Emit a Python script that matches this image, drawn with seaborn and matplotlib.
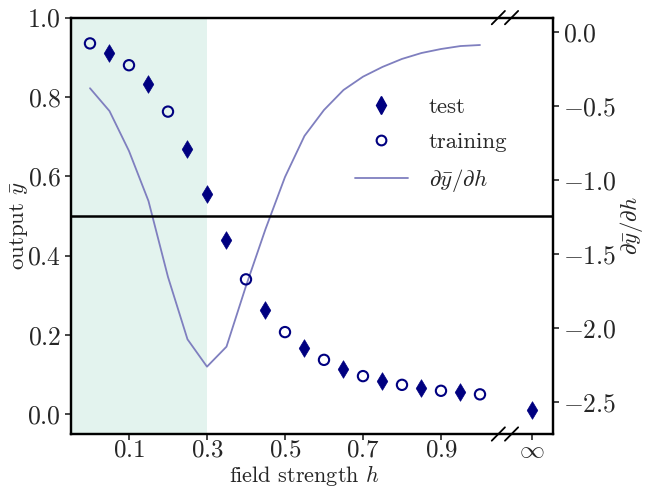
import numpy as np
import pandas as pd
import matplotlib
matplotlib.use("Agg")
import matplotlib.pyplot as plt
import seaborn as sns
from matplotlib.lines import Line2D

# x position used for the h -> infinity point (after the axis break)
H_INF = 1.133
H_BREAK = 1.064

# training points
h_train = [0.0, 0.1, 0.2, 0.4, 0.5, 0.6, 0.7, 0.8, 0.9, 1.0]
y_train = [0.935, 0.880, 0.763, 0.340, 0.207, 0.137, 0.096, 0.074, 0.059, 0.050]

# test points (last one is h = infinity)
h_test = [0.05, 0.15, 0.25, 0.3, 0.35, 0.45, 0.55, 0.65, 0.75, 0.85, 0.95, H_INF]
y_test = [0.912, 0.832, 0.669, 0.554, 0.440, 0.263, 0.166, 0.113, 0.084, 0.065, 0.055, 0.011]

# derivative of the mean output with respect to h
h_deriv = [0.0, 0.05, 0.1, 0.15, 0.2, 0.25, 0.3, 0.35, 0.4, 0.45, 0.5,
           0.55, 0.6, 0.65, 0.7, 0.75, 0.8, 0.85, 0.9, 0.95, 1.0]
dy_dh = [-0.378, -0.532, -0.802, -1.140, -1.653, -2.074, -2.259, -2.124, -1.714,
         -1.330, -0.978, -0.700, -0.525, -0.390, -0.300, -0.234, -0.180, -0.140,
         -0.113, -0.093, -0.086]

x_ticks = [0.1, 0.3, 0.5, 0.7, 0.9, H_INF]
x_ticklabels = [r"$0.1$", r"$0.3$", r"$0.5$", r"$0.7$", r"$0.9$", r"$\infty$"]
yl_ticks = [0.0, 0.2, 0.4, 0.6, 0.8, 1.0]
yl_ticklabels = [r"$0.0$", r"$0.2$", r"$0.4$", r"$0.6$", r"$0.8$", r"$1.0$"]
yr_ticks = [0.0, -0.5, -1.0, -1.5, -2.0, -2.5]
yr_ticklabels = [r"$0.0$", r"$-0.5$", r"$-1.0$", r"$-1.5$", r"$-2.0$", r"$-2.5$"]

sns.set_style("ticks")
plt.rcParams.update({
    "font.family": "serif",
    "font.serif": ["cmr10", "DejaVu Serif"],
    "mathtext.fontset": "cm",
    "axes.formatter.use_mathtext": True,
    "axes.linewidth": 1.6,
    "xtick.major.width": 1.2,
    "ytick.major.width": 1.2,
    "xtick.major.size": 4,
    "ytick.major.size": 4,
    "xtick.direction": "out",
    "ytick.direction": "out",
    "axes.edgecolor": "black",
})

FS_TICK = 18.5
FS_LABEL = 16.5
navy = "#000080"
line_col = "#7f7fbf"
fig = plt.figure(figsize=(6.46, 4.87), dpi=100)
ax = fig.add_axes([0.1099, 0.1088, 0.746, 0.855])
ax2 = ax.twinx()

xmin, xmax = -0.0487, 1.187
for a in (ax, ax2):
    a.set_xlim(xmin, xmax)
ax.set_ylim(-0.05, 1.0)
ax2.set_ylim(-2.714, 0.099)

# training region (on the lower axes so the curve stays visible)
ax2.axvspan(xmin, 0.3, color="#e3f3ee", zorder=0, lw=0)

# derivative curve on the right axis
df_d = pd.DataFrame({"h": h_deriv, "d": dy_dh})
sns.lineplot(data=df_d, x="h", y="d", ax=ax2, color=line_col, lw=1.3, zorder=2)

ax.axhline(0.5, color="black", lw=1.8, zorder=1)

df_test = pd.DataFrame({"h": h_test, "y": y_test})
df_train = pd.DataFrame({"h": h_train, "y": y_train})
sns.scatterplot(data=df_test, x="h", y="y", ax=ax, marker="d", color=navy,
                s=80, edgecolor=navy, linewidth=0.5, zorder=3)
sns.scatterplot(data=df_train, x="h", y="y", ax=ax, marker="o",
                facecolors="none", edgecolors=navy, s=55, linewidth=1.5, zorder=3)

ax.set_zorder(ax2.get_zorder() + 1)
ax.patch.set_visible(False)
ax2.patch.set_visible(True)

ax.set_xticks(x_ticks)
ax.set_xticklabels(x_ticklabels)
ax.set_yticks(yl_ticks)
ax.set_yticklabels(yl_ticklabels)
ax.tick_params(axis="y", labelsize=FS_TICK, pad=3)
ax.tick_params(axis="x", labelsize=18, pad=0)
ax.set_xlabel(r"field strength $h$", fontsize=16)
ax.set_ylabel(r"output $\bar{y}$", fontsize=FS_LABEL)
ax.xaxis.set_label_coords(0.484, -0.069)
ax.yaxis.set_label_coords(-0.085, 0.5)

ax2.set_yticks(yr_ticks)
ax2.set_yticklabels(yr_ticklabels)
ax2.tick_params(labelsize=FS_TICK, pad=3)
ax2.set_ylabel(r"$\partial\bar{y}/\partial h$", fontsize=FS_LABEL)
ax2.yaxis.set_label_coords(1.135, 0.5)
ax2.set_xlabel("")

# axis break marks on top and bottom spines
bx = (H_BREAK - xmin) / (xmax - xmin)
dx = 6.6 / (0.746 * 646)
dy = 6.7 / (0.855 * 487)
for yb in (0.0, 1.0):
    for off in (-dx, dx):
        ax.plot([bx + off - dx, bx + off + dx], [yb - dy, yb + dy],
                transform=ax.transAxes, color="black", lw=1.3, clip_on=False)

handles = [
    Line2D([], [], marker="d", color=navy, ls="none", markersize=9),
    Line2D([], [], marker="o", markerfacecolor="none", markeredgecolor=navy,
           markeredgewidth=1.5, ls="none", markersize=7),
    Line2D([], [], color=line_col, lw=1.3),
]
ax.legend(handles, ["test", "training", r"$\partial\bar{y}/\partial h$"],
          loc="upper left", bbox_to_anchor=(0.589, 0.81), frameon=False,
          borderpad=0, borderaxespad=0,
          fontsize=FS_LABEL, handlelength=2.3, handletextpad=0.92, labelspacing=0.65)
if ax2.get_legend() is not None:
    ax2.get_legend().remove()

fig.savefig("out.png", dpi=100)
